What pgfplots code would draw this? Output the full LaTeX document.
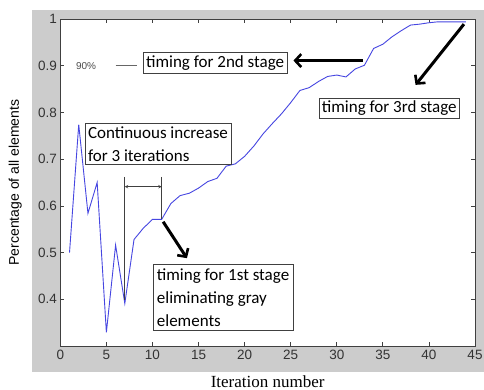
\documentclass[border=0pt]{standalone}
\usepackage{pgfplots}
\pgfplotsset{compat=1.18}
\usetikzlibrary{arrows.meta}
\usepackage{fontspec}
\setmainfont{Liberation Sans}
\newfontfamily\annfont{Carlito}
\newfontfamily\serifx{Liberation Serif}
\definecolor{figgray}{RGB}{204,204,204}
\definecolor{lineblue}{RGB}{70,70,225}
\tikzset{bigarrow/.style={-{Straight Barb[length=6pt,width=13pt,line width=2.6pt]}, line width=3pt}}
\begin{document}
\begin{tikzpicture}[x=1pt,y=1pt]
\useasboundingbox (0,0) rectangle (484,390);
\fill[figgray] (32,18) rectangle (484,380);
\begin{axis}[
  at={(60.3pt,44pt)}, anchor=south west,
  scale only axis, width=414.7pt, height=327pt,
  xmin=0, xmax=45, ymin=0.3, ymax=1,
  xtick={0,5,...,45},
  ytick={0.4,0.5,0.6,0.7,0.8,0.9,1},
  yticklabels={0.4,0.5,0.6,0.7,0.8,0.9,1},
  tick align=inside, major tick length=4pt,
  xtick pos=both, ytick pos=both,
  axis background/.style={fill=white},
  axis line style={black!75, line width=0.8pt},
  tick style={black!75, line width=0.7pt},
  /pgf/number format/assume math mode=true,
  ticklabel style={font=\fontsize{13.5}{13.5}\selectfont, text=black!80},
  xticklabel style={yshift=-1pt},
  yticklabel style={xshift=0pt},
  xlabel={Iteration number},
  ylabel={Percentage of all elements},
  every axis x label/.style={at={(rel axis cs:0.5,0)}, yshift=-36pt, anchor=center, font=\serifx\fontsize{17}{17}\selectfont},
  every axis y label/.style={at={(rel axis cs:0,0.5)}, xshift=-45pt, anchor=center, rotate=90, font=\fontsize{14}{14}\selectfont},
  clip=false,
]
\addplot[lineblue, line width=0.9pt] coordinates {
(1,0.500) (2,0.774) (3,0.584) (4,0.650) (5,0.329) (6,0.516) (7,0.391) (8,0.528)
(9,0.552) (10,0.571) (11,0.571) (12,0.605) (13,0.622) (14,0.627) (15,0.638)
(16,0.652) (17,0.659) (18,0.685) (19,0.690) (20,0.706) (21,0.728) (22,0.754)
(23,0.776) (24,0.797) (25,0.821) (26,0.847) (27,0.853) (28,0.866) (29,0.877)
(30,0.880) (31,0.876) (32,0.893) (33,0.901) (34,0.937) (35,0.946) (36,0.962)
(37,0.975) (38,0.987) (39,0.989) (40,0.992) (41,0.994) (42,0.994) (43,0.994) (44,0.994)
};
% 90% label and line
\node[font=\fontsize{10}{10}\selectfont, text=black!70] at (axis cs:2.8,0.9) {90\%};
\draw[black!60, line width=0.8pt] (axis cs:6.0,0.9) -- (axis cs:8.3,0.9);
% 2nd stage
\node[draw=black!75, line width=0.7pt, fill=white, font=\annfont\fontsize{17}{17}\selectfont, inner sep=3pt] at (axis cs:16.8,0.906) {timing for 2nd stage};
\draw[bigarrow] (axis cs:32.8,0.911) -- (axis cs:25.3,0.911);
% 3rd stage
\node[draw=black!75, line width=0.7pt, fill=white, font=\annfont\fontsize{17}{17}\selectfont, inner sep=3pt] at (axis cs:35.7,0.809) {timing for 3rd stage};
\draw[bigarrow] (axis cs:43.8,0.989) -- (axis cs:38.55,0.859);
% continuous increase
\node[draw=black!75, line width=0.7pt, fill=white, font=\annfont\fontsize{17}{23}\selectfont, align=left, inner sep=3pt] at (axis cs:10.6,0.733) {Continuous increase\\for 3 iterations};
\draw[black!75, line width=0.7pt] (axis cs:7,0.662) -- (axis cs:7,0.398);
\draw[black!75, line width=0.7pt] (axis cs:11,0.662) -- (axis cs:11,0.571);
\draw[<->, >=stealth, black!75, line width=0.5pt] (axis cs:7,0.641) -- (axis cs:11,0.641);
% 1st stage
\draw[bigarrow] (axis cs:11.16,0.566) -- (axis cs:13.74,0.488);
\node[draw=black!75, line width=0.7pt, fill=white, font=\annfont\fontsize{17}{23}\selectfont, align=left, inner sep=4pt] at (axis cs:17.66,0.404) {timing for 1st stage\\eliminating gray\\elements};
\end{axis}
\end{tikzpicture}
\end{document}
